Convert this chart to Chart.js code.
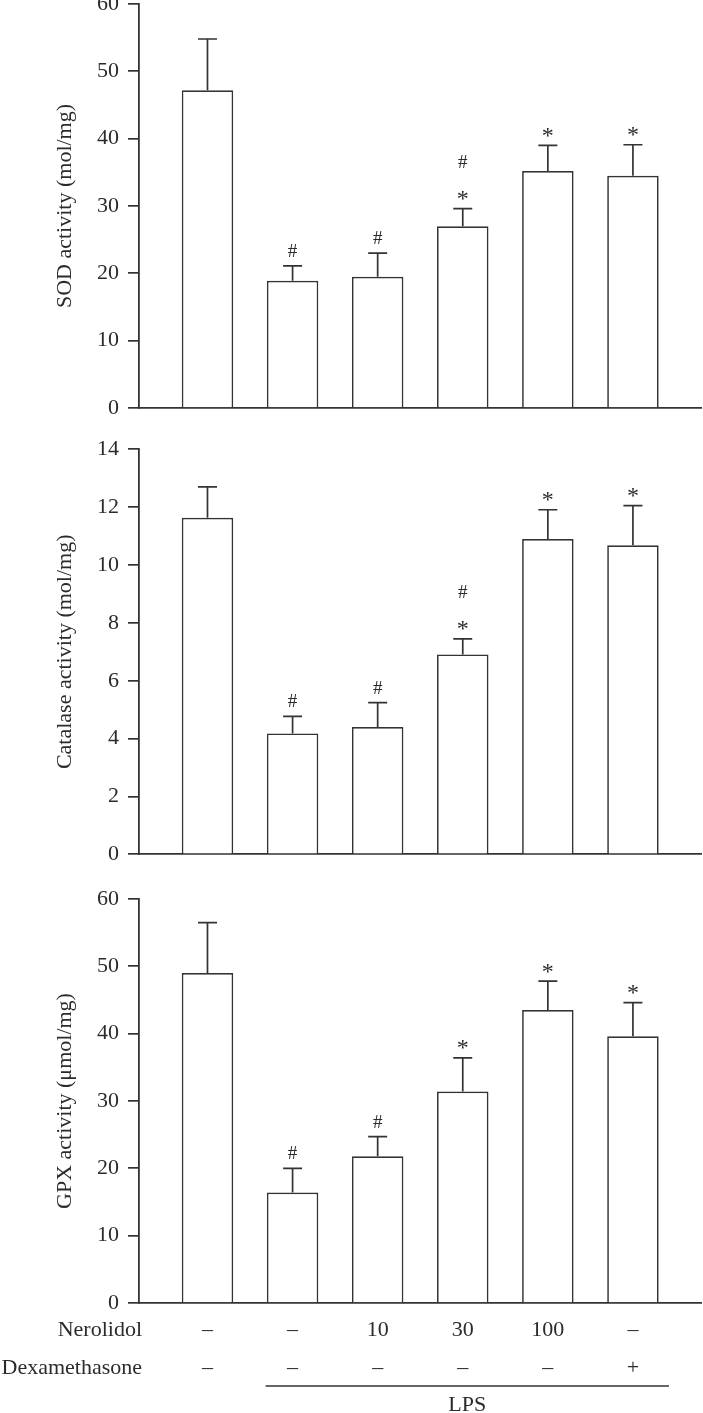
<!DOCTYPE html>
<html lang="en">
<head>
<meta charset="UTF-8">
<title>SOD, catalase and GPX activity</title>
<script src="https://cdn.jsdelivr.net/npm/chart.js"></script>
<style>
  body { margin: 0; background: #fff; }
  .panel { position: absolute; left: 0; }
</style>
</head>
<body>
<div class="panel" style="top:0"><canvas id="sodChart" width="703" height="420"></canvas></div>
<div class="panel" style="top:420px"><canvas id="catChart" width="703" height="450"></canvas></div>
<div class="panel" style="top:870px"><canvas id="gpxChart" width="703" height="543"></canvas></div>

<script>
// groups (bar positions) and the treatment table under the last panel
const groups = [0, 1, 2, 3, 4, 5];
const nerolidolRow = ['–', '–', '10', '30', '100', '–'];
const dexaRow = ['–', '–', '–', '–', '–', '+'];

// SOD activity (mol/mg)
const sodMean = [47.2, 18.9, 19.5, 27.0, 35.2, 34.5];
const sodErr = [7.6, 2.2, 3.5, 2.6, 3.8, 4.6];
const sodMarks = [[], ['#'], ['#'], ['*', '#'], ['*'], ['*']];

// catalase activity (mol/mg)
const catMean = [11.63, 4.18, 4.40, 6.91, 10.90, 10.68];
const catErr = [1.07, 0.59, 0.84, 0.54, 1.01, 1.37];
const catMarks = [[], ['#'], ['#'], ['*', '#'], ['*'], ['*']];

// GPX activity (umol/mg)
const gpxMean = [49.0, 16.4, 21.8, 31.4, 43.5, 39.6];
const gpxErr = [7.5, 3.6, 2.9, 5.0, 4.3, 5.0];
const gpxMarks = [[], ['#'], ['#'], ['*'], ['*'], ['*']];

const ink = '#333333';
const textCol = '#2b2b2b';
const serif = '"Liberation Serif", "DejaVu Serif", serif';
const fontSize = 22;
const rowGap = 38;

// error bars (upper whisker only) plus the # / * marks above them
function errorBars(mean, err, marks) {
    return {
        id: 'errorBars',
        afterDatasetsDraw(chart) {
            const ctx = chart.ctx, xs = chart.scales.x, ys = chart.scales.y;
            ctx.save();
            ctx.strokeStyle = ink;
            ctx.lineWidth = 1.7;
            ctx.fillStyle = textCol;
            ctx.textAlign = 'center';
            ctx.textBaseline = 'alphabetic';
            mean.forEach((m, i) => {
                const px = xs.getPixelForValue(groups[i]);
                const y0 = ys.getPixelForValue(m);
                const y1 = ys.getPixelForValue(m + err[i]);
                ctx.beginPath();
                ctx.moveTo(px, y0);
                ctx.lineTo(px, y1);
                ctx.moveTo(px - 9.5, y1);
                ctx.lineTo(px + 9.5, y1);
                ctx.stroke();
                let cy = y1;
                marks[i].forEach((s, k) => {
                    const c = k === 0 ? y1 - (s === '*' ? 13.5 : 15.5) : cy - 33.5;
                    ctx.font = (s === '*' ? 24 : 19) + 'px ' + serif;
                    ctx.fillText(s, px, c + (s === '*' ? 11 : 6.5));
                    cy = c;
                });
            });
            ctx.restore();
        }
    };
}

// row names and the LPS bracket under the last panel
const treatmentTable = {
    id: 'treatmentTable',
    afterDraw(chart) {
        const ctx = chart.ctx, xs = chart.scales.x;
        const row1 = xs.top + 8 + rowGap / 2, row2 = row1 + rowGap;
        ctx.save();
        ctx.fillStyle = textCol;
        ctx.font = fontSize + 'px ' + serif;
        ctx.textAlign = 'right';
        ctx.textBaseline = 'middle';
        ctx.fillText('Nerolidol', 142, row1);
        ctx.fillText('Dexamethasone', 142, row2);
        const xa = xs.getPixelForValue(1) - 27, xb = xs.getPixelForValue(5) + 36;
        ctx.strokeStyle = ink;
        ctx.lineWidth = 1.7;
        ctx.beginPath();
        ctx.moveTo(xa, row2 + 18);
        ctx.lineTo(xb, row2 + 18);
        ctx.stroke();
        ctx.textAlign = 'center';
        ctx.fillText('LPS', (xa + xb) / 2, row2 + 37);
        ctx.restore();
    }
};

function makePanel(id, title, mean, err, marks, yMax, yStep, padTop, xHeight, showRows) {
    const extra = [errorBars(mean, err, marks)];
    if (showRows) extra.push(treatmentTable);
    return new Chart(document.getElementById(id), {
        type: 'bar',
        data: {
            datasets: [{
                data: groups.map((g, i) => ({ x: g, y: mean[i] })),
                backgroundColor: '#ffffff',
                borderColor: ink,
                borderWidth: 1.7,
                barPercentage: 0.605,
                categoryPercentage: 1
            }]
        },
        options: {
            responsive: false,
            animation: false,
            layout: { padding: { top: padTop, bottom: 0, left: 0, right: 2 } },
            plugins: { legend: { display: false }, tooltip: { enabled: false } },
            scales: {
                x: {
                    type: 'linear',
                    offset: false,
                    min: -0.805,
                    max: 5.8,
                    afterBuildTicks: s => { s.ticks = groups.map(v => ({ value: v })); },
                    afterFit: s => { s.height = xHeight; s.paddingLeft = 0; s.paddingRight = 0; },
                    grid: { display: false, drawTicks: false },
                    border: { color: ink, width: 1.8 },
                    ticks: {
                        display: showRows,
                        padding: 8,
                        color: textCol,
                        font: { family: serif, size: fontSize, lineHeight: rowGap + 'px' },
                        callback: (v, i) => [nerolidolRow[i], dexaRow[i]]
                    }
                },
                y: {
                    min: 0,
                    max: yMax,
                    afterFit: s => { s.width = 139; s.paddingTop = 0; s.paddingBottom = 0; },
                    ticks: { stepSize: yStep, padding: 9, color: textCol, font: { family: serif, size: fontSize } },
                    grid: { drawOnChartArea: false, drawTicks: true, tickLength: 11, color: ink, lineWidth: 1.7 },
                    border: { color: ink, width: 1.8 },
                    title: {
                        display: true,
                        text: title,
                        color: textCol,
                        font: { family: serif, size: fontSize },
                        padding: { top: 52, bottom: 0 }
                    }
                }
            }
        },
        plugins: extra
    });
}

makePanel('sodChart', 'SOD activity (mol/mg)', sodMean, sodErr, sodMarks, 60, 10, 4, 12, false);
makePanel('catChart', 'Catalase activity (mol/mg)', catMean, catErr, catMarks, 14, 2, 29.3, 15.7, false);
makePanel('gpxChart', 'GPX activity (μmol/mg)', gpxMean, gpxErr, gpxMarks, 60, 10, 29, 110, true);
</script>
</body>
</html>
